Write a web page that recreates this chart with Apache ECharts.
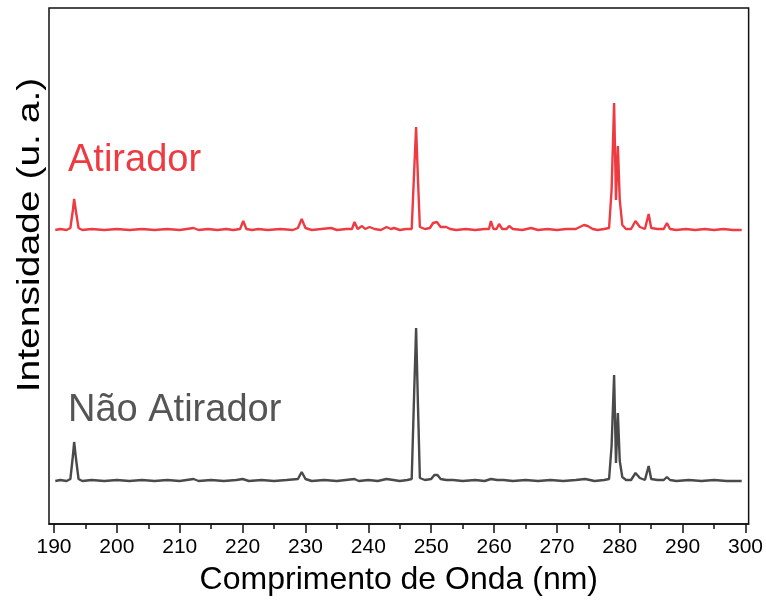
<!DOCTYPE html>
<html>
<head>
<meta charset="utf-8">
<script src="https://cdn.jsdelivr.net/npm/echarts@6/dist/echarts.min.js"></script>
<style>
html, body { margin: 0; padding: 0; background: #fff; }
#chart { width: 766px; height: 603px; }
</style>
</head>
<body>
<div id="chart"></div>
<script>
'use strict';
// tick values of the wavelength axis (nm)
var majorTicks = [190, 200, 210, 220, 230, 240, 250, 260, 270, 280, 290, 300];
var minorTicks = [195, 205, 215, 225, 235, 245, 255, 265, 275, 285, 295];

// [wavelength nm, intensity], baseline = 0
var atiradorSpec = [
    [190.2,0],[191,1],[192,0],[192.6,2],[193.0,20],[193.2,31],[193.5,18],[193.9,2],[194.5,0],[196,1],[198,0],[200,1],
    [202,0],[204,1],[206,0],[208,1],[210,0],[212.2,2],[213,0],[214.5,1],[216,0],[217.4,1],[218.5,0],[219.6,1],
    [220.1,9],[220.6,1],[221.5,0],[222.5,1],[224,0],[226,1],[228,0],[228.8,2],[229.4,11],[230.0,2],[231,0],[232.5,1],
    [234.1,2],[235,0],[236.5,1],[237.4,1],[237.8,8],[238.3,1],[239.0,4],[239.5,1],[240.2,3],[241,1],[242,0],[242.9,3],
    [243.6,1],[244.1,2],[245,0],[246,1],[246.9,1],[247.3,60],[247.6,103],[247.9,50],[248.2,3],[249,1],[249.8,2],
    [250.3,7],[250.9,8],[251.5,3],[252.4,3],[253,1],[253.3,2],[254,0],[255.5,1],[257,0],[258.5,1],[259.2,1],[259.5,9],
    [259.9,1],[260.4,1],[260.8,6],[261.3,1],[262,1],[262.4,4],[263,1],[264.5,0],[265.9,2],[267,0],[268.5,1],[270,0],
    [271.5,1],[273,1],[274.3,5],[274.9,4],[275.7,1],[276.5,0],[277.5,1],[278.3,2],[278.7,40],[279.1,127],[279.4,30],
    [279.7,84],[280.0,30],[280.4,5],[281,1],[281.8,1],[282.5,9],[283.2,3],[284.0,1],[284.6,16],[285.0,2],[286,1],
    [287.0,1],[287.5,7],[288.0,1],[289,0],[290.5,1],[292,0],[293.5,1],[295,0],[296.5,1],[298,0],[299.4,0]
];
var naoAtiradorSpec = [
    [190.2,0],[191,1],[192,0],[192.6,2],[193.0,25],[193.2,39],[193.5,22],[193.9,2],[194.5,0],[196,1],[198,0],[200,1],
    [202,0],[204,1],[206,0],[208,1],[210,0],[212.2,2],[213,0],[215,1],[217,0],[219,1],[220,2],[221,0],[223,1],[225,0],
    [227,1],[228.8,2],[229.4,9],[230.0,2],[231,0],[233,1],[235,0],[237.8,2],[238.5,0],[240,1],[241.5,0],[242.9,2],
    [244,1],[245,0],[246.2,1],[246.9,2],[247.3,90],[247.6,153],[247.9,75],[248.2,3],[249,1],[250.0,2],[250.5,6],
    [251.0,6],[251.5,2],[252.4,1],[253.5,1],[255,0],[257,1],[258.5,0],[259.5,2],[260.5,1],[261.5,1],[263,0],[265,1],
    [267,0],[269,1],[271,0],[273,1],[274.5,2],[276,0],[277.5,1],[278.3,2],[278.7,35],[279.1,106],[279.4,18],[279.7,68],
    [280.0,20],[280.4,4],[281,1],[281.8,1],[282.5,8],[283.2,3],[284.0,1],[284.6,15],[285.0,2],[286,1],[287.0,1],
    [287.5,4],[288.0,1],[289,0],[291,1],[293,0],[295,1],[297,0],[299.4,0]
];
// vertical offsets of the stacked spectra
var atiradorOffset = 294;
var naoAtiradorOffset = 43;

function shift(spec, off){
    return spec.map(function(p){ return [p[0], p[1] + off]; });
}

var chart = echarts.init(document.getElementById('chart'));
var option = {
    animation: false,
    backgroundColor: '#fff',
    grid: {
        left: 49, top: 8, right: 14, bottom: 79,
        show: true, borderColor: '#111', borderWidth: 1.5
    },
    xAxis: [
        {
            type: 'value', min: 189.2, max: 300.5,
            name: 'Comprimento de Onda (nm)', nameLocation: 'middle', nameGap: 40,
            nameTextStyle: { fontFamily: 'Liberation Sans', fontSize: 32, color: '#000' },
            axisLine: { show: true, lineStyle: { color: '#111', width: 1.5 } },
            axisTick: { show: true, length: 9, customValues: majorTicks, lineStyle: { color: '#111', width: 1.5 } },
            axisLabel: {
                show: true, customValues: majorTicks, margin: 13,
                fontFamily: 'Liberation Sans Narrow, Liberation Sans', fontSize: 21, color: '#000'
            },
            splitLine: { show: false }
        },
        {
            type: 'value', min: 189.2, max: 300.5, position: 'bottom',
            axisLine: { show: false },
            axisTick: { show: true, length: 5, customValues: minorTicks, lineStyle: { color: '#111', width: 1.5 } },
            axisLabel: { show: false },
            splitLine: { show: false }
        }
    ],
    yAxis: {
        type: 'value', min: 0, max: 516,
        axisLine: { show: false }, axisTick: { show: false }, axisLabel: { show: false },
        splitLine: { show: false }
    },
    series: [
        {
            name: 'Atirador', type: 'line', xAxisIndex: 0, showSymbol: false, smooth: false,
            data: shift(atiradorSpec, atiradorOffset),
            lineStyle: { color: '#ee3b42', width: 2.4 }
        },
        {
            name: 'Não Atirador', type: 'line', xAxisIndex: 0, showSymbol: false, smooth: false,
            data: shift(naoAtiradorSpec, naoAtiradorOffset),
            lineStyle: { color: '#4a4a4a', width: 2.4 }
        }
    ],
    graphic: [
        // y axis title, stretched along its length like the reference
        {
            type: 'text', x: 30, y: 235, rotation: Math.PI / 2, scaleX: 1.22,
            style: { text: 'Intensidade (u. a.)', fill: '#000', font: '32px "Liberation Sans"', align: 'center', verticalAlign: 'middle' }
        },
        { type: 'text', left: 68, top: 142, style: { text: 'Atirador', fill: '#ee3b42', font: '38px "Liberation Sans"' } },
        { type: 'text', left: 68, top: 392, style: { text: 'Não Atirador', fill: '#555555', font: '38px "Liberation Sans"' } }
    ]
};
chart.setOption(option);
</script>
</body>
</html>
